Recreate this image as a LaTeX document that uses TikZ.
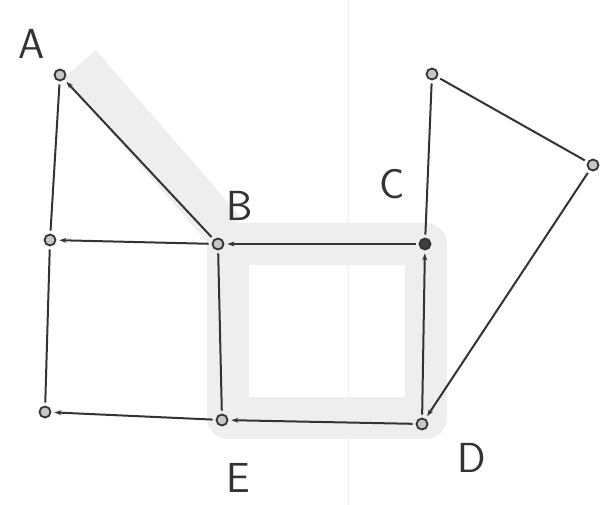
\documentclass[tikz,border=0pt]{standalone}
\usetikzlibrary{arrows.meta,positioning}

\begin{document}
\begin{tikzpicture}[x=1pt,y=-1pt,>={Stealth[length=7pt,width=5pt]},
    vtx/.style={circle,draw=black!80,fill=gray!45,line width=1.8pt,inner sep=0pt,minimum size=11pt},
    edge/.style={black!80,line width=2pt,shorten >=3pt,shorten <=3pt},
    lbl/.style={font=\sffamily\fontsize{42}{42}\selectfont,text=black!80},
    band/.style={gray!13,line width=42pt,line join=round}]
  \useasboundingbox (0,0) rectangle (608,505);
  % paper fold
  \draw[gray!12,line width=1pt] (348,0) -- (348,505);
  % shaded highlights
  \draw[band] (80,64) -- (226,232);
  \draw[band] (228,244) -- (426,244) -- (426,418) -- (228,418) -- cycle;
  % vertices
  \node[vtx] (a) at (60,75) {};
  \node[vtx] (l) at (50,240) {};
  \node[vtx] (b) at (218,244) {};
  \node[vtx,fill=black!75] (c) at (425,244) {};
  \node[vtx] (t) at (432,74) {};
  \node[vtx] (r) at (593,165) {};
  \node[vtx] (bl) at (45,412) {};
  \node[vtx] (e) at (222,420) {};
  \node[vtx] (d) at (422,424) {};
  % labels
  \node[lbl] (la) at (32,44) {A};
  \node[lbl] (lb) at (240,206) {B};
  \node[lbl] (lc) at (392,184) {C};
  \node[lbl] (le) at (238,478) {E};
  \node[lbl] (ld) at (472,458) {D};
  % connectors
  \draw[edge] (a) -- (l);
  \draw[edge,->] (b) -- (a);
  \draw[edge,->] (b) -- (l);
  \draw[edge,->] (c) -- (b);
  \draw[edge] (l) -- (bl);
  \draw[edge,->] (e) -- (bl);
  \draw[edge] (b) -- (e);
  \draw[edge,->] (d) -- (e);
  \draw[edge,->] (d) -- (c);
  \draw[edge] (t) -- (c);
  \draw[edge] (t) -- (r);
  \draw[edge,->] (r) -- (d);
\end{tikzpicture}
\end{document}
